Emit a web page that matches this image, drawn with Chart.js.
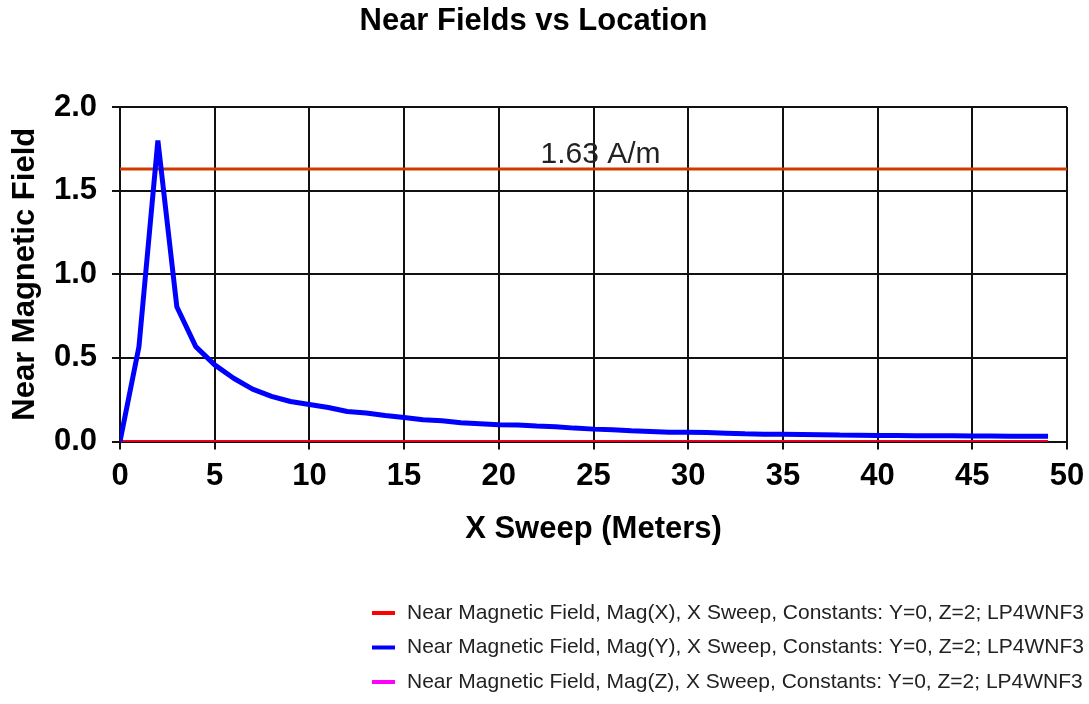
<!DOCTYPE html>
<html>
<head>
<meta charset="utf-8">
<title>Near Fields vs Location</title>
<script src="https://cdn.jsdelivr.net/npm/chart.js@4/dist/chart.umd.min.js"></script>
<style>
  html, body { margin: 0; padding: 0; background: #fff; }
  #wrap { width: 1089px; height: 704px; }
</style>
</head>
<body>
<div id="wrap"><canvas id="chart" width="1089" height="704"></canvas></div>
<script>
// ── Data ───────────────────────────────────────────────────────────────────
const xSweep = [
  0, 1, 2, 3, 4, 5, 6, 7, 8, 9,
  10, 11, 12, 13, 14, 15, 16, 17, 18, 19,
  20, 21, 22, 23, 24, 25, 26, 27, 28, 29,
  30, 31, 32, 33, 34, 35, 36, 37, 38, 39,
  40, 41, 42, 43, 44, 45, 46, 47, 48, 49,
];
const magX = [
  0, 0, 0, 0, 0, 0, 0, 0, 0, 0,
  0, 0, 0, 0, 0, 0, 0, 0, 0, 0,
  0, 0, 0, 0, 0, 0, 0, 0, 0, 0,
  0, 0, 0, 0, 0, 0, 0, 0, 0, 0,
  0, 0, 0, 0, 0, 0, 0, 0, 0, 0,
];
const magY = [
  0, 0.567, 1.80, 0.806, 0.567, 0.458, 0.378, 0.313, 0.270, 0.239,
  0.221, 0.203, 0.179, 0.170, 0.155, 0.143, 0.130, 0.124, 0.112, 0.106,
  0.100, 0.098, 0.092, 0.088, 0.080, 0.074, 0.070, 0.064, 0.060, 0.056,
  0.055, 0.054, 0.050, 0.046, 0.044, 0.043, 0.042, 0.041, 0.039, 0.038,
  0.036, 0.036, 0.035, 0.034, 0.034, 0.033, 0.033, 0.032, 0.032, 0.031,
];
const magZ = [
  0, 0, 0, 0, 0, 0, 0, 0, 0, 0,
  0, 0, 0, 0, 0, 0, 0, 0, 0, 0,
  0, 0, 0, 0, 0, 0, 0, 0, 0, 0,
  0, 0, 0, 0, 0, 0, 0, 0, 0, 0,
  0, 0, 0, 0, 0, 0, 0, 0, 0, 0,
];
const limitValue = 1.63;          // A/m
const limitSpan  = [0, 50];
const limitLabel = '1.63 A/m';

const seriesLabels = [
  'Near Magnetic Field, Mag(X), X Sweep, Constants: Y=0, Z=2; LP4WNF3',
  'Near Magnetic Field, Mag(Y), X Sweep, Constants: Y=0, Z=2; LP4WNF3',
  'Near Magnetic Field, Mag(Z), X Sweep, Constants: Y=0, Z=2; LP4WNF3',
];
const COLORS = ['#FF0000', '#0000FF', '#FF00FF'];

const FONT = "'Liberation Sans', Arial, Helvetica, sans-serif";
Chart.defaults.font.family = FONT;
Chart.defaults.color = '#000';

const toPts = ys => ys.map((y, i) => ({ x: xSweep[i], y }));

// ── Plugins ────────────────────────────────────────────────────────────────
// threshold caption above the limit line
const limitCaption = {
  id: 'limitCaption',
  afterDatasetsDraw(chart) {
    const { ctx, scales: { x, y } } = chart;
    ctx.save();
    ctx.font = `30px ${FONT}`;
    ctx.fillStyle = '#222';
    ctx.textAlign = 'left';
    ctx.textBaseline = 'alphabetic';
    ctx.fillText(limitLabel, x.getPixelForValue(22.2), y.getPixelForValue(limitValue) - 6);
    ctx.restore();
  }
};

// stacked legend, right aligned under the axis title
const sideLegend = {
  id: 'sideLegend',
  afterDraw(chart) {
    const { ctx } = chart;
    const rows = [613, 647.5, 682];
    ctx.save();
    ctx.font = `21px ${FONT}`;
    ctx.textBaseline = 'middle';
    ctx.textAlign = 'left';
    seriesLabels.forEach((txt, i) => {
      const yy = rows[i];
      ctx.fillStyle = COLORS[i];
      ctx.fillRect(372, yy - 2, 23, 4);
      ctx.fillStyle = '#222';
      ctx.fillText(txt, 407, yy);
    });
    ctx.restore();
  }
};

// ── Chart ──────────────────────────────────────────────────────────────────
new Chart(document.getElementById('chart').getContext('2d'), {
  type: 'line',
  data: {
    datasets: [
      { label: seriesLabels[1], data: toPts(magY), borderColor: COLORS[1], borderWidth: 5, order: 0 },
      { label: seriesLabels[0], data: toPts(magX), borderColor: COLORS[0], borderWidth: 3, order: 1 },
      { label: seriesLabels[2], data: toPts(magZ), borderColor: COLORS[2], borderWidth: 3, order: 2 },
      { label: 'limit', data: limitSpan.map(x => ({ x, y: limitValue })),
        borderColor: '#D03A00', borderWidth: 3, order: 3 },
    ]
  },
  options: {
    responsive: false,
    animation: false,
    devicePixelRatio: 1,
    elements: {
      point: { radius: 0 },
      line: { tension: 0, fill: false, borderCapStyle: 'butt', borderJoinStyle: 'bevel' }
    },
    layout: { padding: { left: 0, right: 22, top: 0, bottom: 152.5 } },
    plugins: {
      legend: { display: false },
      tooltip: { enabled: false },
      title: {
        display: true,
        text: 'Near Fields vs Location',
        color: '#000',
        font: { size: 31, weight: 'bold' },
        padding: { top: 3, bottom: 66.8 }
      }
    },
    scales: {
      x: {
        type: 'linear',
        min: 0, max: 50,
        afterFit: s => { s.height = 110; },
        ticks: { stepSize: 5, padding: 4, color: '#000',
                 font: { size: 31, weight: 'bold', lineHeight: 1.5 } },
        grid: { color: '#111', lineWidth: 2, tickLength: 8 },
        border: { color: '#111', width: 2 },
        title: {
          display: true, text: 'X Sweep (Meters)', color: '#000',
          font: { size: 31, weight: 'bold' }, padding: { top: 0, bottom: 3 }
        }
      },
      y: {
        min: 0, max: 2,
        afterFit: s => { s.width = 120; },
        ticks: { stepSize: 0.5, padding: 15, color: '#000', font: { size: 31, weight: 'bold' },
                 callback: v => v.toFixed(1) },
        grid: { color: '#111', lineWidth: 2, tickLength: 8 },
        border: { color: '#111', width: 2 },
        title: {
          display: true, text: 'Near Magnetic Field', color: '#000',
          font: { size: 31, weight: 'bold' }, padding: { top: 7, bottom: 0 }
        }
      }
    }
  },
  plugins: [limitCaption, sideLegend]
});
</script>
</body>
</html>
